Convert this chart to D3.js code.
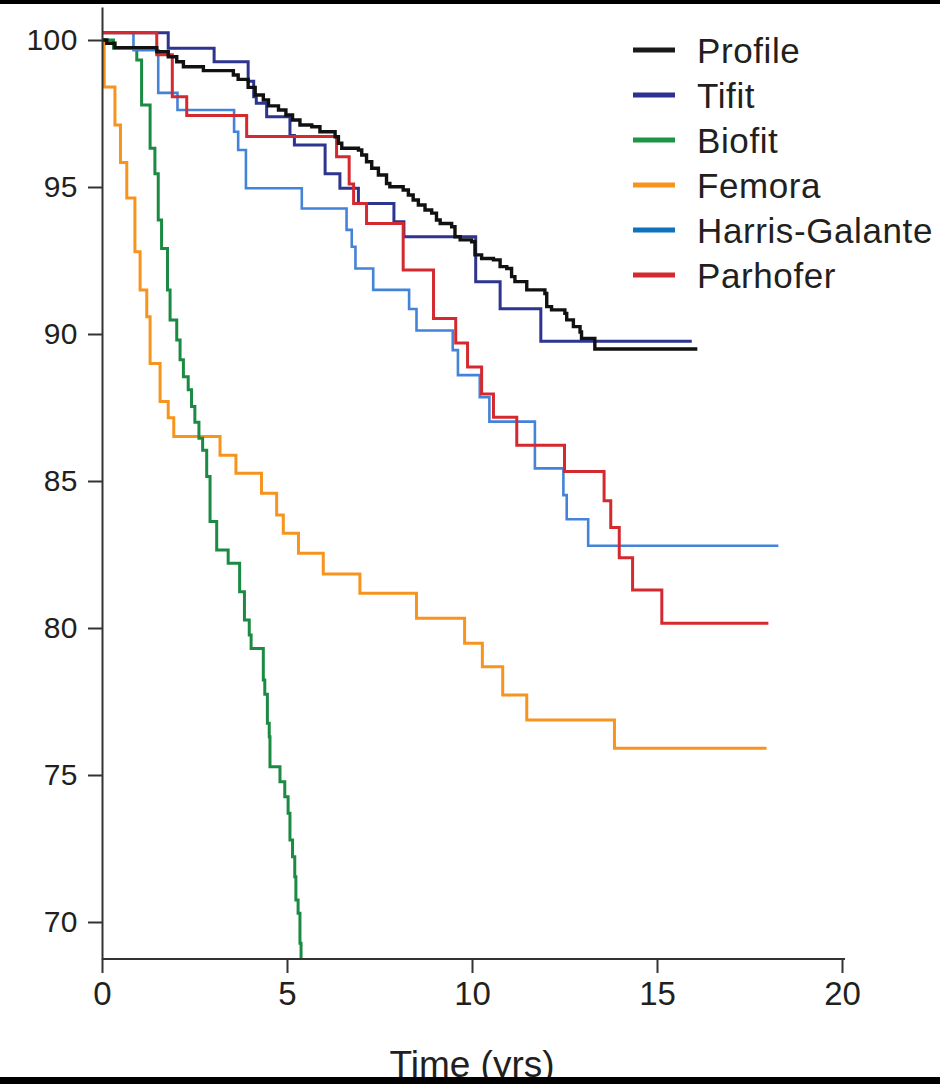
<!DOCTYPE html>
<html>
<head>
<meta charset="utf-8">
<script src="https://cdn.jsdelivr.net/npm/d3@7"></script>
<style>
	html, body { margin: 0; padding: 0; background: #fff; }
	svg { display: block; font-family: 'Liberation Sans', Arial, sans-serif; }
	.axis path, .axis line { stroke: #333; stroke-width: 2; }
	.axis text { fill: #231f20; }
</style>
</head>
<body>
<div class="chart"></div>
<script>
// survival (%) by time (yrs), each pair is [time, value after step]
const profile = [[0, 100], [0.13, 99.89], [0.35, 99.74], [1.48, 99.6], [1.79, 99.43], [2.02, 99.26], [2.2, 99.09], [2.74, 98.96], [3.55, 98.81], [3.68, 98.66], [3.95, 98.39], [4.14, 98.13], [4.36, 97.96], [4.5, 97.76], [4.77, 97.62], [4.97, 97.45], [5.15, 97.28], [5.35, 97.11], [5.67, 97.05], [5.89, 96.88], [6.3, 96.71], [6.39, 96.49], [6.48, 96.32], [6.93, 96.26], [7.02, 96.09], [7.15, 95.86], [7.29, 95.64], [7.47, 95.41], [7.69, 95.12], [7.78, 95.01], [8.14, 94.9], [8.28, 94.73], [8.41, 94.56], [8.55, 94.39], [8.73, 94.22], [8.91, 94.11], [9.04, 93.88], [9.14, 93.76], [9.45, 93.65], [9.54, 93.31], [9.68, 93.2], [9.99, 93.14], [10.08, 92.69], [10.26, 92.57], [10.58, 92.52], [10.76, 92.29], [10.94, 92.23], [11.07, 91.95], [11.16, 91.78], [11.48, 91.5], [11.97, 91.38], [12.02, 90.93], [12.15, 90.82], [12.51, 90.7], [12.56, 90.48], [12.74, 90.25], [12.92, 90.07], [12.96, 89.85], [13.32, 89.49], [16.09, 89.49]]
const tifit = [[0, 100.25], [1.79, 99.72], [3.03, 99.26], [3.95, 98.6], [4.1, 98.07], [4.17, 97.85], [4.45, 97.39], [5.08, 96.75], [5.2, 96.43], [6.03, 95.45], [6.43, 94.96], [6.93, 94.44], [7.89, 93.82], [8.16, 93.31], [10.1, 91.78], [10.76, 90.86], [11.86, 89.75], [15.94, 89.75]]
const biofit = [[0, 100], [0.31, 99.72], [0.94, 99.32], [1.07, 97.79], [1.3, 96.32], [1.43, 95.45], [1.52, 93.88], [1.61, 92.91], [1.77, 91.5], [1.84, 90.48], [2.02, 89.8], [2.11, 89.12], [2.2, 88.55], [2.33, 88.1], [2.42, 87.53], [2.51, 87.0], [2.62, 86.45], [2.72, 86.05], [2.83, 85.15], [2.92, 83.62], [3.1, 82.65], [3.41, 82.2], [3.72, 81.23], [3.85, 80.27], [3.98, 79.76], [4.03, 79.3], [4.36, 78.23], [4.4, 77.75], [4.47, 76.76], [4.52, 76.3], [4.54, 75.28], [4.81, 74.77], [4.94, 74.26], [5.03, 73.7], [5.08, 72.79], [5.15, 72.22], [5.21, 71.54], [5.24, 70.75], [5.3, 70.3], [5.35, 69.28], [5.38, 68.5]]
const femora = [[0, 100], [0.06, 98.4], [0.35, 97.11], [0.5, 95.83], [0.67, 94.63], [0.89, 92.8], [1.03, 91.5], [1.21, 90.59], [1.3, 89.0], [1.57, 87.7], [1.79, 87.15], [1.94, 86.51], [3.19, 85.88], [3.62, 85.26], [4.31, 84.58], [4.72, 83.84], [4.9, 83.22], [5.31, 82.54], [5.98, 81.84], [6.97, 81.18], [8.5, 80.33], [9.8, 79.48], [10.28, 78.68], [10.83, 77.72], [11.48, 76.87], [13.85, 75.91], [17.96, 75.91]]
const harris = [[0, 100.25], [0.85, 99.65], [1.52, 98.2], [2.04, 97.62], [3.57, 96.88], [3.68, 96.26], [3.89, 94.96], [5.4, 94.27], [6.61, 93.54], [6.75, 92.97], [6.85, 92.23], [7.33, 91.5], [8.3, 90.85], [8.5, 90.12], [9.48, 89.45], [9.62, 88.6], [10.21, 87.85], [10.47, 87.02], [11.7, 85.43], [12.47, 84.52], [12.56, 83.7], [13.14, 82.8], [18.28, 82.8]]
const parhofer = [[0, 100.25], [1.48, 99.5], [1.9, 98.07], [2.29, 97.43], [3.91, 96.72], [6.34, 96.03], [6.68, 95.1], [6.8, 94.44], [7.15, 93.76], [8.14, 92.18], [8.96, 90.53], [9.56, 89.69], [9.88, 88.88], [10.26, 87.96], [10.58, 87.17], [11.21, 86.22], [12.5, 85.32], [13.57, 84.33], [13.75, 83.42], [13.98, 82.39], [14.34, 81.29], [15.13, 80.16], [18.01, 80.16]]

const legendNames = ['Profile', 'Tifit', 'Biofit', 'Femora', 'Harris-Galante', 'Parhofer']
const legendColors = ['#1a1a1a', '#2e3192', '#1e9447', '#f7941d', '#0f72bd', '#d42a2f']
const xTicks = [0, 5, 10, 15, 20]
const yTicks = [70, 75, 80, 85, 90, 95, 100]

// drawn back to front
const series = [
	{ name: 'Femora', data: femora, color: '#f7941d', width: 3 },
	{ name: 'Biofit', data: biofit, color: '#1b8a43', width: 3 },
	{ name: 'Harris-Galante', data: harris, color: '#4383d8', width: 2.6 },
	{ name: 'Tifit', data: tifit, color: '#2e3590', width: 3 },
	{ name: 'Parhofer', data: parhofer, color: '#d42a2f', width: 3 },
	{ name: 'Profile', data: profile, color: '#111', width: 3.4 },
]

const W = 940
const H = 1084

const x = d3.scaleLinear().domain([0, 20]).range([102, 842])
const y = d3.scaleLinear().domain([70, 100]).range([922, 40])
const axisY = 959
const axisTop = 7
const yAxisScale = y.copy().domain([y.invert(axisY), y.invert(axisTop)]).range([axisY, axisTop])

const svg = d3.select('.chart').append('svg')
	.attr('width', W)
	.attr('height', H)

svg.append('defs').append('clipPath').attr('id', 'plot-clip')
	.append('rect')
	.attr('x', 0).attr('y', 0)
	.attr('width', W).attr('height', axisY)

// curves
const line = d3.line()
	.x(d => x(d[0]))
	.y(d => y(d[1]))
	.curve(d3.curveStepAfter)

svg.append('g').attr('clip-path', 'url(#plot-clip)')
	.selectAll('path')
	.data(series)
	.join('path')
	.attr('d', d => line(d.data))
	.attr('fill', 'none')
	.attr('stroke', d => d.color)
	.attr('stroke-width', d => d.width)

// axes
const gy = svg.append('g').attr('class', 'axis axis--y')
	.attr('transform', 'translate(102, 0)')
	.call(d3.axisLeft(yAxisScale).tickValues(yTicks).tickSize(14).tickSizeOuter(0).tickPadding(10))
gy.selectAll('text').style('font-size', '30px').style('letter-spacing', '0.5px')

const gx = svg.append('g').attr('class', 'axis axis--x')
	.attr('transform', `translate(0, ${axisY})`)
	.call(d3.axisBottom(x).tickValues(xTicks).tickSize(14).tickSizeOuter(0).tickPadding(9))
gx.selectAll('text').style('font-size', '33px')
gx.select('.domain').attr('d', `M102,0H845`)

svg.append('text')
	.attr('x', x(10))
	.attr('y', 1077)
	.attr('text-anchor', 'middle')
	.attr('fill', '#231f20')
	.style('font-size', '37px')
	.text('Time (yrs)')

// legend
const legend = svg.append('g').attr('transform', 'translate(633, 50)')
const item = legend.selectAll('g')
	.data(legendNames)
	.join('g')
	.attr('transform', (d, i) => `translate(0, ${i * 45})`)

item.append('line')
	.attr('x1', 0).attr('x2', 42)
	.attr('stroke', (d, i) => legendColors[i])
	.attr('stroke-width', 5)

item.append('text')
	.attr('x', 64)
	.attr('dy', '0.36em')
	.attr('fill', '#231f20')
	.style('font-size', '35px')
	.style('letter-spacing', '0.6px')
	.text(d => d)

// black bands at top and bottom edge
svg.append('rect').attr('x', 0).attr('y', 0).attr('width', W).attr('height', 4).attr('fill', '#000')
svg.append('rect').attr('x', 0).attr('y', 1077).attr('width', W).attr('height', 7).attr('fill', '#000')
</script>
</body>
</html>
